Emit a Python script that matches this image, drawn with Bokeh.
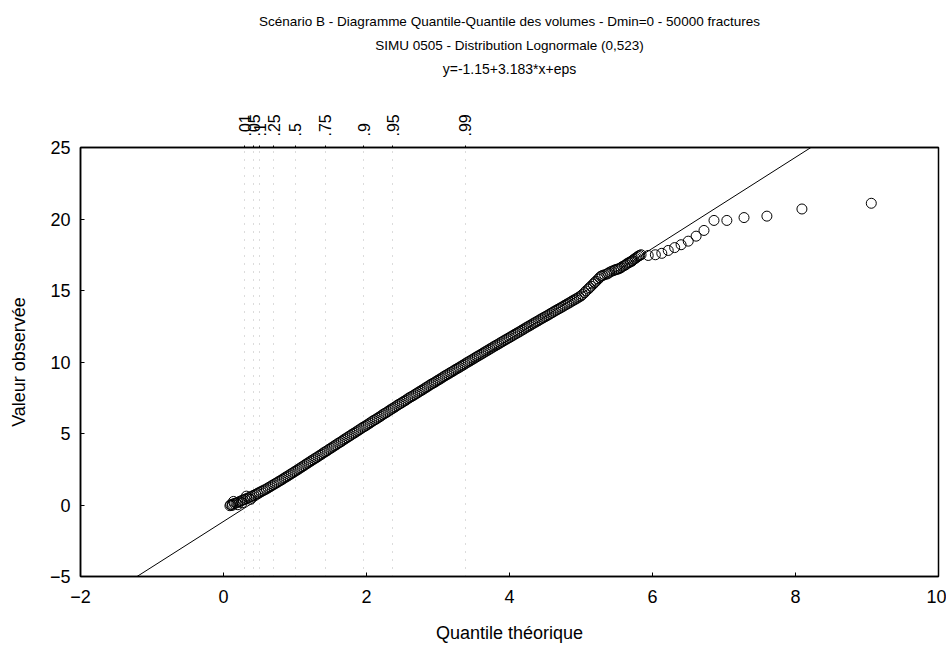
import numpy as np
from bokeh.plotting import figure
from bokeh.models import LinearAxis, FixedTicker, Range1d, Grid, Slope, Title
from bokeh.embed import file_html
from bokeh.resources import INLINE

# ---------------- data ----------------
title_lines = [
    "Scénario B - Diagramme Quantile-Quantile des volumes - Dmin=0 - 50000 fractures",
    "SIMU 0505 - Distribution Lognormale (0,523)",
    "y=-1.15+3.183*x+eps",
]
x_label = "Quantile théorique"
y_label = "Valeur observée"

fit_intercept = -1.15
fit_slope = 3.183

x_ticks = [-2, 0, 2, 4, 6, 8, 10]
y_ticks = [-5, 0, 5, 10, 15, 20, 25]

prob_labels = [".01", ".05", ".1", ".25", ".5", ".75", ".9", ".95", ".99"]
prob_positions = [0.30, 0.42, 0.51, 0.70, 1.00, 1.42, 1.96, 2.37, 3.38]

# points read along the dense band (low end)
q_low = [0.09, 0.100, 0.12, 0.125, 0.14, 0.150, 0.175, 0.20, 0.200, 0.225, 0.250, 0.26, 0.275,
         0.300, 0.32, 0.325, 0.350, 0.375, 0.38, 0.400, 0.425, 0.450, 0.475, 0.500, 0.525,
         0.550, 0.575, 0.600, 0.625, 0.650, 0.675, 0.700, 0.725, 0.750, 0.775, 0.800, 0.825,
         0.850, 0.875, 0.900, 0.925, 0.950, 0.975, 1.000]
v_low = [-0.05, 0.02, -0.03, 0.06, 0.25, 0.10, 0.14, 0.02, 0.19, 0.24, 0.30, 0.15, 0.35,
         0.40, 0.62, 0.45, 0.50, 0.56, 0.40, 0.62, 0.68, 0.75, 0.81, 0.88, 0.94,
         1.00, 1.06, 1.12, 1.20, 1.27, 1.35, 1.42, 1.50, 1.57, 1.65, 1.72, 1.80,
         1.88, 1.96, 2.03, 2.11, 2.19, 2.27, 2.35]

# middle of the band
q_mid = [1.025, 1.050, 1.075, 1.100, 1.125, 1.150, 1.175, 1.200, 1.225, 1.250, 1.275, 1.300,
         1.325, 1.350, 1.375, 1.400, 1.425, 1.450, 1.475, 1.500, 1.525, 1.550, 1.575, 1.600,
         1.625, 1.650, 1.675, 1.700, 1.725, 1.750, 1.775, 1.800, 1.825, 1.850, 1.875, 1.900,
         1.925, 1.950, 1.975, 2.000, 2.025, 2.050, 2.075, 2.100, 2.125, 2.150, 2.175, 2.200,
         2.225, 2.250, 2.275, 2.300, 2.325, 2.350, 2.375, 2.400, 2.425, 2.450, 2.475, 2.500,
         2.525, 2.550, 2.575, 2.600, 2.625, 2.650, 2.675, 2.700, 2.725, 2.750, 2.775, 2.800,
         2.825, 2.850, 2.875, 2.900, 2.925, 2.950, 2.975, 3.000]
v_mid = [2.43, 2.51, 2.59, 2.67, 2.75, 2.84, 2.92, 3.00, 3.08, 3.16, 3.24, 3.31,
         3.40, 3.48, 3.56, 3.65, 3.72, 3.80, 3.89, 3.97, 4.05, 4.13, 4.21, 4.30,
         4.37, 4.45, 4.54, 4.62, 4.70, 4.78, 4.86, 4.95, 5.02, 5.10, 5.18, 5.26,
         5.35, 5.43, 5.50, 5.58, 5.66, 5.74, 5.83, 5.91, 5.98, 6.06, 6.14, 6.22,
         6.31, 6.39, 6.46, 6.54, 6.63, 6.71, 6.78, 6.86, 6.95, 7.03, 7.10, 7.18,
         7.26, 7.33, 7.42, 7.50, 7.57, 7.64, 7.72, 7.80, 7.88, 7.96, 8.03, 8.11,
         8.19, 8.26, 8.35, 8.43, 8.50, 8.57, 8.65, 8.73]

# upper part of the band
q_up = [3.025, 3.050, 3.075, 3.100, 3.125, 3.150, 3.175, 3.200, 3.225, 3.250, 3.275, 3.300,
        3.325, 3.350, 3.375, 3.400, 3.425, 3.450, 3.475, 3.500, 3.525, 3.550, 3.575, 3.600,
        3.625, 3.650, 3.675, 3.700, 3.725, 3.750, 3.775, 3.800, 3.825, 3.850, 3.875, 3.900,
        3.925, 3.950, 3.975, 4.000, 4.025, 4.050, 4.075, 4.100, 4.125, 4.150, 4.175, 4.200,
        4.225, 4.250, 4.275, 4.300, 4.325, 4.350, 4.375, 4.400, 4.425, 4.450, 4.475, 4.500,
        4.525, 4.550, 4.575, 4.600, 4.625, 4.650, 4.675, 4.700, 4.725, 4.750, 4.775, 4.800,
        4.825, 4.850, 4.875, 4.900, 4.925, 4.950, 4.975, 5.000]
v_up = [8.80, 8.88, 8.96, 9.04, 9.11, 9.18, 9.26, 9.33, 9.41, 9.49, 9.56, 9.63,
        9.71, 9.78, 9.86, 9.94, 10.01, 10.08, 10.16, 10.23, 10.31, 10.39, 10.46, 10.53,
        10.61, 10.69, 10.76, 10.83, 10.91, 10.98, 11.06, 11.13, 11.20, 11.27, 11.35, 11.42,
        11.50, 11.57, 11.64, 11.71, 11.79, 11.86, 11.94, 12.01, 12.08, 12.15, 12.23, 12.30,
        12.38, 12.45, 12.52, 12.59, 12.67, 12.74, 12.81, 12.88, 12.96, 13.03, 13.10, 13.17,
        13.24, 13.31, 13.39, 13.46, 13.54, 13.61, 13.68, 13.75, 13.82, 13.89, 13.97, 14.04,
        14.11, 14.18, 14.26, 14.33, 14.40, 14.47, 14.55, 14.62]

# the S-shaped step
q_step = [5.02, 5.05, 5.07, 5.10, 5.12, 5.14, 5.17, 5.19, 5.21, 5.24, 5.26, 5.28, 5.30, 5.33,
          5.36, 5.38, 5.40, 5.43, 5.46, 5.48, 5.50, 5.52, 5.54, 5.56, 5.58, 5.61, 5.63, 5.65,
          5.67, 5.69, 5.71, 5.72, 5.74, 5.76, 5.78, 5.80, 5.82]
v_step = [14.72, 14.85, 14.97, 15.10, 15.20, 15.30, 15.45, 15.55, 15.65, 15.80, 15.90, 16.00,
          16.05, 16.10, 16.15, 16.20, 16.28, 16.35, 16.40, 16.45, 16.48, 16.50, 16.55, 16.60,
          16.68, 16.75, 16.82, 16.90, 16.95, 17.00, 17.05, 17.10, 17.18, 17.25, 17.32, 17.40,
          17.45]

# sparse upper tail
q_tail = [5.84, 5.94, 6.04, 6.13, 6.22, 6.31, 6.40, 6.50, 6.61, 6.72, 6.86, 7.04, 7.28, 7.60,
          8.09, 9.06]
v_tail = [17.50, 17.45, 17.50, 17.60, 17.80, 18.00, 18.20, 18.45, 18.80, 19.20, 19.90, 19.90,
          20.10, 20.20, 20.70, 21.10]

theo_q = q_low + q_mid + q_up + q_step + q_tail
obs_v = v_low + v_mid + v_up + v_step + v_tail

# ---------------- figure ----------------
FONT = "Liberation Sans"

p = figure(
    width=946, height=648, title=None,
    x_range=Range1d(-2, 10), y_range=Range1d(-5, 25),
    output_backend="svg", toolbar_location=None,
    min_border_left=80, min_border_right=8, min_border_top=147, min_border_bottom=72,
    x_axis_label=x_label, y_axis_label=y_label,
)
p.outline_line_color = "black"
p.outline_line_width = 1.5
p.xgrid.visible = False
p.ygrid.visible = False
p.background_fill_color = "white"
p.border_fill_color = "white"

for ax, ticks in ((p.xaxis[0], x_ticks), (p.yaxis[0], y_ticks)):
    ax.ticker = FixedTicker(ticks=ticks)
    ax.major_tick_in = 4
    ax.major_tick_out = 0
    ax.minor_tick_line_color = None
    ax.axis_line_color = "black"
    ax.axis_line_width = 1.5
    ax.major_tick_line_color = "black"
    ax.major_label_text_font = FONT
    ax.major_label_text_font_size = "18px"
    ax.major_label_text_color = "black"
    ax.axis_label_text_font = FONT
    ax.axis_label_text_font_size = "18px"
    ax.axis_label_text_font_style = "normal"
    ax.axis_label_text_color = "black"

p.xaxis[0].major_label_standoff = 13
p.xaxis[0].axis_label_standoff = 17
p.yaxis[0].major_label_standoff = 10
p.yaxis[0].axis_label_standoff = 18

# top probability axis; its axis label carries the regression equation line
prob_ticker = FixedTicker(ticks=prob_positions)
top_ax = LinearAxis(
    ticker=prob_ticker,
    major_label_overrides={pos: lab for pos, lab in zip(prob_positions, prob_labels)},
    major_label_orientation=np.pi / 2,
    major_tick_in=0, major_tick_out=2,
    minor_tick_line_color=None,
    major_label_standoff=9,
    axis_line_color="black", axis_line_width=1.5,
    major_label_text_font=FONT, major_label_text_font_size="16px",
    major_label_text_color="black",
    axis_label=title_lines[2], axis_label_standoff=34,
    axis_label_text_font=FONT, axis_label_text_font_size="14px",
    axis_label_text_font_style="normal", axis_label_text_color="black",
)
p.add_layout(top_ax, "above")

# titles (stacked outward from the plot)
for txt, sp in zip(title_lines[1::-1], [12, 2]):
    p.add_layout(Title(text=txt, align="center", text_font=FONT, text_font_size="13.5px",
                       text_font_style="normal", text_color="black", standoff=sp), "above")

prob_grid = Grid(dimension=0, ticker=prob_ticker, grid_line_color="#888888",
                 grid_line_dash="1 7", grid_line_alpha=0.6, grid_line_width=1)
p.add_layout(prob_grid)

# fitted line
p.add_layout(Slope(gradient=fit_slope, y_intercept=fit_intercept,
                   line_color="black", line_width=1))

# points
p.scatter(theo_q, obs_v, marker="circle", size=10, fill_color=None,
          line_color="black", line_width=1)

open("out.html", "w").write(file_html(p, INLINE))
